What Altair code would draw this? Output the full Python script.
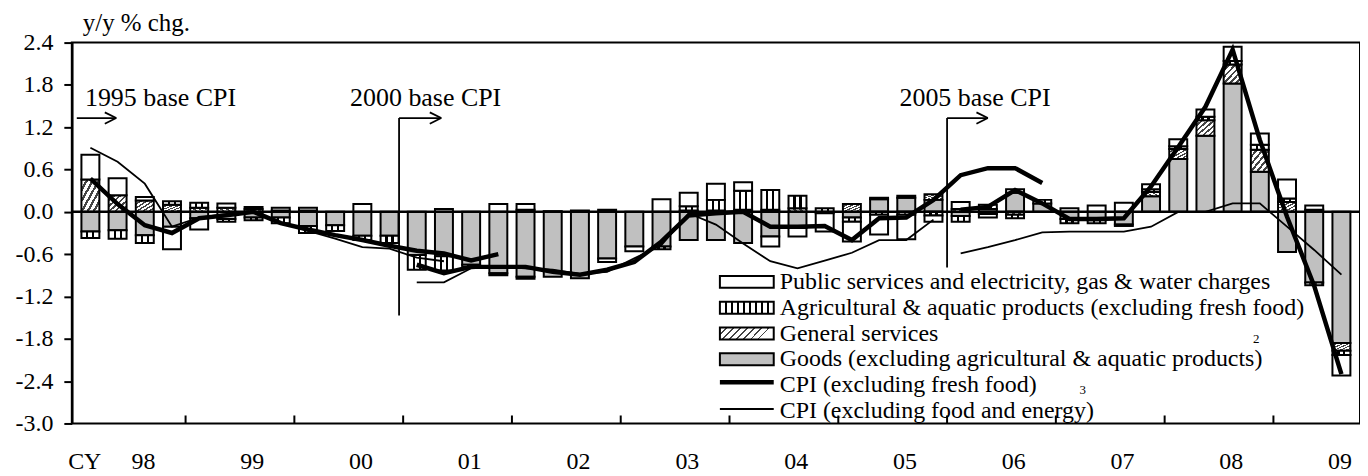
import altair as alt
import pandas as pd

FONT = "Liberation Serif"

# ---------------- data (quarter index 0 = 1998Q1 ... 46 = 2009Q3) ----------------
n_quarters = 47
goods = [-0.28, -0.26, -0.33, -0.21, -0.09, -0.10, -0.08, -0.08, -0.20, -0.19, -0.34, -0.34,
         -0.61, -0.63, -0.75, -0.87, -0.92, -0.92, -0.94, -0.66, -0.49, -0.49, -0.40, -0.40,
         -0.44, -0.35, -0.23, -0.02, -0.08, 0.18, 0.20, 0.17, -0.06, 0.04, 0.27, 0.12,
         -0.10, -0.12, -0.18, 0.22, 0.75, 1.08, 1.82, 0.57, -0.57, -1.00, -1.86]
general = [0.46, 0.235, 0.16, 0.10, 0.06, 0.06, 0.04, 0.02, 0.02, 0.00, 0.00, 0.00,
           0.00, 0.00, 0.00, 0.00, -0.03, 0.00, 0.00, 0.00, 0.00, 0.00, 0.02, 0.02,
           0.03, 0.03, 0.05, 0.00, 0.11, 0.02, -0.04, 0.08, 0.04, -0.03, -0.04, 0.00,
           0.00, 0.00, -0.02, 0.06, 0.14, 0.22, 0.27, 0.31, 0.14, -0.04, -0.11]
agri = [-0.09, -0.12, -0.11, 0.05, 0.07, -0.04, -0.04, -0.08, -0.10, -0.08, -0.06, -0.10,
        -0.21, -0.20, -0.03, -0.03, 0.03, 0.01, 0.02, 0.03, 0.00, -0.04, 0.06, 0.15,
        0.27, 0.28, 0.18, 0.05, -0.06, -0.04, 0.03, -0.05, -0.08, 0.06, -0.05, 0.05,
        -0.06, -0.04, 0.00, 0.04, 0.04, 0.05, 0.05, 0.07, 0.05, 0.03, -0.06]
public = [0.35, 0.24, 0.05, -0.32, -0.16, 0.06, 0.03, 0.04, 0.04, 0.00, 0.11, 0.00,
          0.00, 0.04, 0.00, 0.11, 0.08, 0.00, 0.00, -0.05, -0.07, 0.18, 0.19, 0.23,
          0.12, -0.14, -0.12, -0.26, -0.28, -0.28, -0.35, -0.09, 0.10, -0.05, 0.05, 0.00,
          0.05, 0.09, 0.13, 0.07, 0.10, 0.10, 0.20, 0.16, 0.27, 0.06, -0.29]

# CPI (excluding fresh food): 1995 base, 2000 base, 2005 base
ff_1995_start = 0
ff_1995 = [0.47, 0.11, -0.19, -0.30, -0.09, -0.05, 0.00, -0.16, -0.25, -0.33, -0.40, -0.48,
           -0.55, -0.59, -0.69, -0.60]
ff_2000_start = 12
ff_2000 = [-0.75, -0.87, -0.78, -0.78, -0.78, -0.85, -0.89, -0.82, -0.71, -0.42, -0.05, -0.02,
           0.00, -0.21, -0.21, -0.20, -0.40, -0.09, -0.08, 0.17, 0.52, 0.62, 0.62, 0.41]
ff_2005_start = 32
ff_2005 = [0.03, 0.07, 0.31, 0.12, -0.10, -0.10, -0.09, 0.36, 0.92, 1.49, 2.30, 1.02,
           -0.07, -1.05, -2.30]

# CPI (excluding food and energy)
fe_1995_start = 0
fe_1995 = [0.91, 0.71, 0.40, -0.21, -0.08, -0.03, 0.00, -0.15, -0.27, -0.38, -0.50, -0.52,
           -0.65, -0.70]
fe_2000_start = 12
fe_2000 = [-1.00, -1.00, -0.80, -0.78, -0.80, -0.82, -0.88, -0.85, -0.66, -0.47, -0.02, -0.18,
           -0.45, -0.70, -0.80, -0.69, -0.58, -0.40, -0.40, -0.11]
fe_2005_start = 32
fe_2005 = [-0.59, -0.50, -0.40, -0.29, -0.28, -0.28, -0.28, -0.21, 0.00, 0.00, 0.12, 0.12,
           -0.21, -0.54, -0.89]

year_labels = ["98", "99", "00", "01", "02", "03", "04", "05", "06", "07", "08", "09"]
y_ticks = [-3.0, -2.4, -1.8, -1.2, -0.6, 0.0, 0.6, 1.2, 1.8, 2.4]

legend_labels = [
    "Public services and electricity, gas & water charges",
    "Agricultural & aquatic products (excluding fresh food)",
    "General services",
    "Goods (excluding agricultural & aquatic products)",
    "CPI (excluding fresh food)",
    "CPI (excluding food and energy)",
]

# ---------------- tables built from the arrays ----------------
components = [("goods", goods), ("general", general), ("agri", agri), ("public", public)]
rows = []
for i in range(n_quarters):
    pos, neg = 0.0, 0.0
    for name, arr in components:
        v = arr[i]
        if v > 0:
            rows.append({"x": i + 0.5, "y0": pos, "y1": pos + v, "comp": name})
            pos += v
        elif v < 0:
            rows.append({"x": i + 0.5, "y0": neg, "y1": neg + v, "comp": name})
            neg += v
bars = pd.DataFrame(rows)


def seg_df(start, vals, seg):
    return pd.DataFrame({"x": [start + k + 0.5 for k in range(len(vals))], "v": vals, "seg": seg})


thick = pd.concat([seg_df(ff_1995_start, ff_1995, "a"), seg_df(ff_2000_start, ff_2000, "b"),
                   seg_df(ff_2005_start, ff_2005, "c")])
thin = pd.concat([seg_df(fe_1995_start, fe_1995, "a"), seg_df(fe_2000_start, fe_2000, "b"),
                  seg_df(fe_2005_start, fe_2005, "c")])

W, H = 1292, 382
xscale = alt.Scale(domain=[0, n_quarters], nice=False, zero=False)
yscale = alt.Scale(domain=[-3.0, 2.4], nice=False, zero=False)
yaxis = alt.Axis(values=y_ticks, labelExpr="replace(format(datum.value, '.1f'), '\u2212', '-')",
                 grid=False, tickSize=8, tickWidth=2, tickColor="black", domainColor="black",
                 domainWidth=2.5, labelFont=FONT, labelFontSize=24, labelColor="black",
                 labelPadding=11, title=None)


def X(f):
    return alt.X(f, type="quantitative", scale=xscale, axis=None, title=None)


def Y(f):
    return alt.Y(f, type="quantitative", scale=yscale, axis=yaxis, title=None)


def Y2(f):
    return alt.Y2(f)


def stops(bg, fg, cuts, half):
    s = [alt.GradientStop(offset=0, color=bg)]
    for c in cuts:
        s += [alt.GradientStop(offset=max(c - half, 0), color=bg),
              alt.GradientStop(offset=max(c - half, 0), color=fg),
              alt.GradientStop(offset=min(c + half, 1), color=fg),
              alt.GradientStop(offset=min(c + half, 1), color=bg)]
    s.append(alt.GradientStop(offset=1, color=bg))
    return s


agri_fill = alt.LinearGradient(gradient="linear", x1=0, y1=0, x2=1, y2=0,
                               stops=stops("white", "black", [1 / 3, 2 / 3], 0.06))
gen_fill = alt.LinearGradient(gradient="linear", x1=0, y1=0, x2=1, y2=1,
                              stops=stops("white", "#444444", [k / 6 for k in range(1, 6)], 0.035))
agri_leg_fill = alt.LinearGradient(gradient="linear", x1=0, y1=0, x2=1, y2=0,
                                   stops=stops("white", "black", [k / 9 for k in range(1, 9)], 0.02))
gen_leg_fill = alt.LinearGradient(gradient="linear", x1=0, y1=0, x2=1, y2=0.22,
                                  stops=stops("white", "#444444", [k / 8 for k in range(1, 9)], 0.015))
fills = {"goods": "#c0c0c0", "general": gen_fill, "agri": agri_fill, "public": "white"}

layers = []
for name, _ in components:
    layers.append(
        alt.Chart(bars[bars.comp == name]).mark_bar(size=18, fill=fills[name], stroke="black",
                                                    strokeWidth=2)
        .encode(x=X("x"), y=Y("y0"), y2=Y2("y1"))
    )

zero = alt.Chart(pd.DataFrame({"z": [0.0]})).mark_rule(color="black", strokeWidth=2.5).encode(y=Y("z"))
layers.append(zero)

layers.append(alt.Chart(thin).mark_line(color="black", strokeWidth=1.8)
              .encode(x=X("x"), y=Y("v"), detail="seg:N"))
layers.append(alt.Chart(thick).mark_line(color="black", strokeWidth=4.5)
              .encode(x=X("x"), y=Y("v"), detail="seg:N"))

# base-change annotations (data units)
ay = 1.33
ah_dx, ah_dy = 0.42, 0.08
ann = []
for (vx, vbottom, tip) in [(0.0, None, 1.45), (11.85, -1.47, 13.4), (32.0, -0.79, 33.5)]:
    if vbottom is not None:
        ann.append({"x": vx, "x2": vx, "y": vbottom, "y2": ay})
    ann.append({"x": vx, "x2": tip, "y": ay, "y2": ay})
    ann.append({"x": tip - ah_dx, "x2": tip, "y": ay + ah_dy, "y2": ay})
    ann.append({"x": tip - ah_dx, "x2": tip, "y": ay - ah_dy, "y2": ay})
ann = pd.DataFrame(ann)
layers.append(alt.Chart(ann).mark_rule(color="black", strokeWidth=1.8)
              .encode(x=X("x"), x2="x2", y=Y("y"), y2="y2"))

base_txt = pd.DataFrame({"x": [0.3, 10.05, 30.25], "y": [1.62, 1.62, 1.62],
                         "t": ["1995 base CPI", "2000 base CPI", "2005 base CPI"]})
layers.append(alt.Chart(base_txt).mark_text(font=FONT, fontSize=26, align="left", baseline="middle",
                                            color="black")
              .encode(x=X("x"), y=Y("y"), text="t:N"))

# x axis: year boundary ticks (inside) and year labels
bounds = pd.DataFrame({"b": [4 * k for k in range(1, 12)]})
layers.append(alt.Chart(bounds).mark_rule(color="black", strokeWidth=2)
              .encode(x=X("b"), y=alt.value(H), y2=alt.value(H - 8)))
ylab = pd.DataFrame({"x": [4 * k + 2.45 for k in range(len(year_labels))], "t": year_labels})
layers.append(alt.Chart(ylab).mark_text(font=FONT, fontSize=24, baseline="middle", color="black")
              .encode(x=X("x"), y=alt.value(421), text="t:N"))
layers.append(alt.Chart(pd.DataFrame({"t": ["CY"]})).mark_text(font=FONT, fontSize=24, baseline="middle",
                                                               color="black")
              .encode(x=alt.value(13), y=alt.value(421), text="t:N"))
layers.append(alt.Chart(pd.DataFrame({"t": ["y/y % chg."]})).mark_text(font=FONT, fontSize=25, align="left",
                                                                       baseline="middle", color="black")
              .encode(x=alt.value(11), y=alt.value(-20), text="t:N"))

# legend (layout in pixels)
row_y = [240 + 25.9 * r for r in range(6)]
sx0, sx1 = 650, 704
sym_fills = ["white", agri_leg_fill, gen_leg_fill, "#c0c0c0"]
for r in range(4):
    layers.append(alt.Chart(pd.DataFrame({"r": [r]})).mark_rect(fill=sym_fills[r], stroke="black",
                                                                strokeWidth=2)
                  .encode(x=alt.value(sx0), x2=alt.value(sx1), y=alt.value(row_y[r] - 6),
                          y2=alt.value(row_y[r] + 6)))
layers.append(alt.Chart(pd.DataFrame({"r": [4]})).mark_rule(color="black", strokeWidth=4.5)
              .encode(x=alt.value(sx0), x2=alt.value(sx1), y=alt.value(row_y[4] - 3)))
layers.append(alt.Chart(pd.DataFrame({"r": [5]})).mark_rule(color="black", strokeWidth=1.8)
              .encode(x=alt.value(sx0), x2=alt.value(sx1), y=alt.value(row_y[5] - 2)))
leg = pd.DataFrame({"t": legend_labels, "py": row_y})
layers.append(alt.Chart(leg).mark_text(font=FONT, fontSize=24, align="left", baseline="middle", color="black")
              .encode(x=alt.value(710), y=alt.Y("py:Q", scale=None, axis=None), text="t:N"))
sup = pd.DataFrame({"t": ["2", "3"], "px": [1188, 1014], "py": [297, 348]})
layers.append(alt.Chart(sup).mark_text(font=FONT, fontSize=13, baseline="middle", color="black")
              .encode(x=alt.X("px:Q", scale=None, axis=None), y=alt.Y("py:Q", scale=None, axis=None),
                      text="t:N"))

chart = (
    alt.layer(*layers)
    .properties(width=W, height=H, autosize=alt.AutoSizeParams(type="none"),
                padding={"left": 64, "top": 34, "right": 0, "bottom": 50}, background="white")
    .configure_view(stroke="black", strokeWidth=2)
)

chart.save("out.html", embed_options={"renderer": "svg", "actions": False})
